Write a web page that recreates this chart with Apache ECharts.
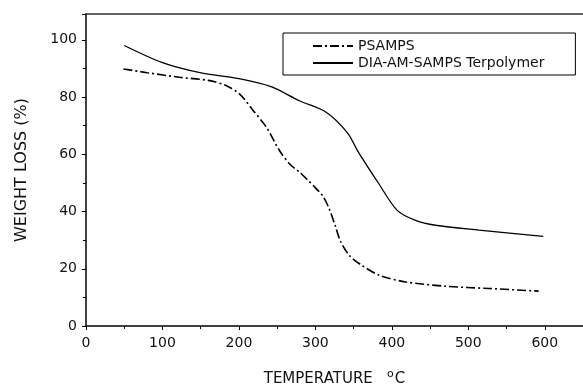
<!DOCTYPE html>
<html>
<head>
<meta charset="utf-8">
<script src="https://cdn.jsdelivr.net/npm/echarts@6/dist/echarts.min.js"></script>
<style>
  html, body { margin: 0; padding: 0; background: #fff; }
  #main { width: 583px; height: 384px; }
</style>
</head>
<body>
<div id="main"></div>
<script>
// PSAMPS curve (temperature, weight %)
var psampsTemp = [49, 80, 122, 160, 183, 201, 218, 236, 253, 266, 279, 290, 301, 310, 318, 326, 333, 345, 359, 383, 418, 470, 527, 592];
var psampsVal = [89.8, 88.5, 86.9, 85.8, 84.0, 81.0, 75.5, 69.4, 61.3, 56.7, 53.8, 51.0, 48.0, 45.3, 41.0, 35.0, 29.5, 24.5, 21.5, 17.8, 15.4, 13.9, 13.1, 12.2];

// DIA-AM-SAMPS Terpolymer curve
var terTemp = [50, 100, 149, 200, 242, 279, 314, 342, 355, 383, 407, 431, 457, 514, 598];
var terVal = [98.0, 92.0, 88.5, 86.4, 83.6, 78.7, 74.7, 67.5, 61.3, 49.7, 40.4, 36.9, 35.2, 33.5, 31.3];

var xTicks = [0, 100, 200, 300, 400, 500, 600];
var yTicks = [0, 20, 40, 60, 80, 100];

function pairs(xs, ys) {
  return xs.map(function (x, i) { return [x, ys[i]]; });
}

var myChart = echarts.init(document.getElementById('main'));
var font = 'DejaVu Sans';

var option = {
  animation: false,
  textStyle: { fontFamily: font, color: '#111' },
  grid: { left: 86, top: 14, right: 0, bottom: 58, outerBoundsMode: 'none' },
  legend: {
    orient: 'vertical',
    left: 283,
    top: 33,
    itemWidth: 40,
    itemHeight: 12,
    itemGap: 3,
    padding: [6, 31, 5, 29],
    borderColor: '#000',
    borderWidth: 1,
    itemStyle: { opacity: 0 },
    textStyle: { fontFamily: font, fontSize: 14, color: '#111' },
    data: ['PSAMPS', 'DIA-AM-SAMPS Terpolymer']
  },
  xAxis: [{
    type: 'value',
    min: 0,
    max: 650,
    interval: 100,
    name: 'TEMPERATURE   {sup|o}C',
    nameLocation: 'middle',
    nameGap: 43,
    nameTextStyle: {
      fontSize: 15, color: '#111', fontFamily: font,
      rich: { sup: { fontSize: 11, padding: [0, 1, 9, 0], fontFamily: font, color: '#111' } }
    },
    axisLine: { show: true, lineStyle: { color: '#000', width: 1.5 } },
    axisTick: { show: true, length: 4, lineStyle: { color: '#000' } },
    minorTick: { show: true, splitNumber: 2, length: 3, lineStyle: { color: '#000' } },
    axisLabel: { fontSize: 14, color: '#111', margin: 10, showMaxLabel: false,
      formatter: function (v) { return xTicks.indexOf(v) >= 0 ? v : ''; } },
    splitLine: { show: false }
  }, {
    type: 'value',
    position: 'top',
    min: 0,
    max: 650,
    axisLine: { show: true, lineStyle: { color: '#333', width: 1.5 } },
    axisTick: { show: false },
    axisLabel: { show: false },
    splitLine: { show: false }
  }],
  yAxis: {
    type: 'value',
    min: 0,
    max: 109,
    interval: 20,
    name: 'WEIGHT LOSS (%)',
    nameLocation: 'middle',
    nameGap: 56,
    nameTextStyle: { fontSize: 16, color: '#111', fontFamily: font },
    axisLine: { show: true, lineStyle: { color: '#000', width: 1.5 } },
    axisTick: { show: true, length: 4, lineStyle: { color: '#000' } },
    minorTick: { show: true, splitNumber: 2, length: 3, lineStyle: { color: '#000' } },
    axisLabel: { fontSize: 14, color: '#111', margin: 9, showMaxLabel: false,
      formatter: function (v) { return yTicks.indexOf(v) >= 0 ? v : ''; } },
    splitLine: { show: false }
  },
  series: [
    {
      name: 'PSAMPS',
      type: 'line',
      smooth: 0.3,
      symbol: 'none',
      data: pairs(psampsTemp, psampsVal),
      lineStyle: { color: '#000', width: 1.6, type: [9, 3, 2, 3] },
      itemStyle: { color: '#000' }
    },
    {
      name: 'DIA-AM-SAMPS Terpolymer',
      type: 'line',
      smooth: 0.3,
      symbol: 'none',
      data: pairs(terTemp, terVal),
      lineStyle: { color: '#000', width: 1.3, type: 'solid' },
      itemStyle: { color: '#000' }
    }
  ]
};

myChart.setOption(option);
</script>
</body>
</html>
